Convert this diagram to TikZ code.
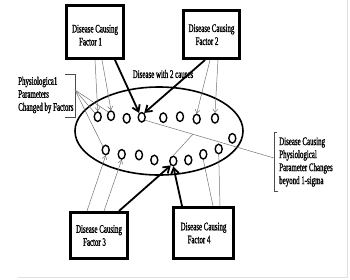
\documentclass[tikz,border=0pt]{standalone}
\usepackage{fontspec}
\setmainfont{Liberation Serif}
\newfontfamily\narrowserif[FakeStretch=0.6,FakeBold=1.2]{Liberation Serif}
\usepackage{tikz}
\usetikzlibrary{arrows.meta,positioning,calc,shapes.geometric}
\newcommand{\txt}{\narrowserif\fontsize{11.5}{13}\selectfont}
\tikzset{
  flow/.style={>={Straight Barb[length=3.5pt,width=5pt]},line width=0.5pt},
  factor/.style={draw,line width=2.6pt,align=left,font=\txt,inner sep=0pt},
  param/.style={draw,ellipse,line width=1.4pt,minimum width=7pt,minimum height=9.5pt,inner sep=0pt},
  weak/.style={draw=black!55,line width=0.5pt},
  strong/.style={line width=1.8pt,-{Straight Barb[length=6pt,width=8pt]}},
  note/.style={font=\txt,align=left,inner sep=0pt},
  brace/.style={draw=black!70,line width=0.5pt},
}

\begin{document}
\begin{tikzpicture}[flow,x=1pt,y=-1pt]
\useasboundingbox (0,0) rectangle (350,279);
\draw[black!12] (18,277) -- (347,277) -- (347,0);
% set of physiological parameters
\draw[line width=1.6pt] (159,131) ellipse [x radius=84pt,y radius=44pt];
\foreach \n/\x/\y in {1/97.7/116.7,2/111/115.7,3/126.7/118.3,4/141.7/117.3,5/163.3/117.7,
  6/180/116.7,7/196.7/119,8/215/118.3,9/232.3/138.3}
  \node[param] (t\n) at (\x,\y) {};
\foreach \n/\x/\y in {1/105.7/150,2/121.7/154.3,3/139/155,4/154.3/160,5/173.3/161,
  6/188.3/160,7/203.3/154.3,8/218.7/149}
  \node[param] (b\n) at (\x,\y) {};
% factors
\node[factor,minimum width=57.4pt,minimum height=53.4pt,text height=27pt] (f1) at (95,32)
  {Disease Causing\\\hspace*{7pt}Factor 1};
\node[factor,minimum width=56.4pt,minimum height=48.4pt,text height=21pt] (f2) at (211.5,34.5)
  {Disease Causing\\\hspace*{7pt}Factor 2};
\node[factor,minimum width=57.4pt,minimum height=46.4pt] (f3) at (99,235.5)
  {Disease Causing\\\hspace*{7pt}Factor 3};
\node[factor,minimum width=60.4pt,minimum height=51.4pt] (f4) at (203.5,233)
  {Disease Causing\\\hspace*{7pt}Factor 4};
% labels
\node[note,anchor=west] (changed) at (18,95) {Physiologica1\\Parameters\\Changed by Factors};
\node[note] (two) at (163,74) {Disease with 2 causes};
\node[note,anchor=west] (beyond) at (279,162)
  {Disease Causing\\Physiological\\Parameter Changes\\beyond 1-sigma};
\draw[brace] (65,74) -- (75,74) -- (75,117) -- (65,117);
\draw[brace] (277,132) -- (274,132) -- (274,191) -- (278,191);
\coordinate (lb) at (75,90);
\coordinate (rb) at (274,158);
\draw[weak] (lb) -- (t1.north west);
\draw[weak] (lb) -- (t2.north west);
\draw[weak] (lb) -- (b1.north west);
\draw[weak] (t4.-40) -- (rb) coordinate[pos=0.37] (br);
\draw[weak] (br) -- (b5.north);
% effects of each factor
\draw[weak,->] ([xshift=0pt]f1.south) -- (t1.north);
\draw[weak,->] ([xshift=7pt]f1.south) -- (t2.north);
\draw[strong] ([xshift=20pt]f1.south) -- (t4.120);
\draw[strong] ([xshift=-6.5pt]f2.south) -- (t4.60);
\draw[weak,->] ([xshift=-1.5pt]f2.south) -- (t7.north);
\draw[weak,->] ([xshift=6.5pt]f2.south) -- (t8.north);
\draw[weak,->] ([xshift=-12pt]f3.north) -- (b1.south);
\draw[weak,->] ([xshift=5pt]f3.north) -- (b2.south);
\draw[strong] ([xshift=20pt]f3.north) -- (b5.240);
\draw[strong] ([xshift=-21.5pt]f4.north) -- (b5.south);
\draw[weak] ([xshift=9.5pt]f4.north) -- (b7.south);
\draw[weak] ([xshift=16.5pt]f4.north) -- (b8.south);
\end{tikzpicture}
\end{document}
